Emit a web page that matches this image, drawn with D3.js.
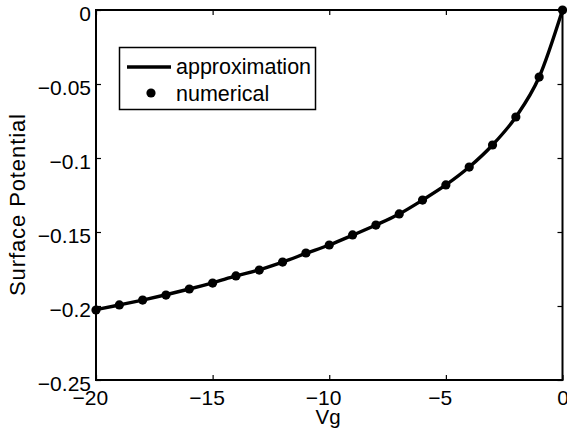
<!DOCTYPE html>
<html>
<head>
<meta charset="utf-8">
<script src="https://cdn.jsdelivr.net/npm/d3@7/dist/d3.min.js"></script>
<style>
  html, body { margin: 0; padding: 0; background: #fff; }
  svg { display: block; font-family: "Liberation Sans", Arial, Helvetica, sans-serif; }
</style>
</head>
<body>
<svg id="chart" width="567" height="436"></svg>
<script>
// Gate voltage samples
const vg = [-20, -19, -18, -17, -16, -15, -14, -13, -12, -11, -10, -9, -8, -7, -6, -5, -4, -3, -2, -1, 0];
// Surface potential from the closed-form approximation
const approximation = [-0.2025, -0.1993, -0.1960, -0.1924, -0.1885, -0.1843, -0.1797, -0.1755, -0.1703, -0.1645, -0.1588, -0.1522, -0.1453, -0.1378, -0.1284, -0.1182, -0.1061, -0.0912, -0.0723, -0.0453, 0];
// Surface potential from the numerical solver
const numerical = [-0.2027, -0.1993, -0.1960, -0.1926, -0.1885, -0.1845, -0.1797, -0.1757, -0.1703, -0.1642, -0.1588, -0.1520, -0.1453, -0.1378, -0.1284, -0.1182, -0.1061, -0.0912, -0.0723, -0.0453, 0];
const xTicks = [-20, -15, -10, -5, 0];
const yTicks = [-0.25, -0.2, -0.15, -0.1, -0.05, 0];
const seriesNames = ["approximation", "numerical"];

const svg = d3.select("#chart");
const plotLeft = 96, plotRight = 562.5, plotTop = 10, plotBottom = 380;
const tickFont = 21;

const x = d3.scaleLinear().domain([-20, 0]).range([plotLeft, plotRight]);
const y = d3.scaleLinear().domain([-0.25, 0]).range([plotBottom, plotTop]);

const fmtY = v => (v === 0 ? "0" : String(v).replace("-", "\u2212"));

const axisStyle = g => {
  g.select(".domain").remove();
  g.selectAll(".tick line").attr("stroke", "#000").attr("stroke-width", 1.2);
  g.selectAll(".tick text").attr("fill", "#000").attr("font-size", tickFont);
};

// Bottom axis: digits centred on the tick, minus sign hanging to the left
const xAxisG = svg.append("g").attr("transform", `translate(0,${plotBottom})`)
  .call(d3.axisBottom(x).tickValues(xTicks).tickFormat(v => String(Math.abs(v))).tickSizeInner(-5))
  .call(axisStyle);
xAxisG.selectAll(".tick text").attr("y", 10).attr("dy", "0.71em");
xAxisG.selectAll(".tick").each(function (v) {
  if (v >= 0) return;
  const t = d3.select(this).select("text");
  const w = t.node().getComputedTextLength();
  d3.select(this).append("text")
    .attr("x", -w / 2).attr("y", 10).attr("dy", "0.71em")
    .attr("text-anchor", "end")
    .attr("fill", "#000").attr("font-size", tickFont)
    .text("\u2212");
});

svg.append("g").attr("transform", `translate(0,${plotTop})`)
  .call(d3.axisTop(x).tickValues(xTicks).tickFormat("").tickSizeInner(-5))
  .call(axisStyle);

const yAxisG = svg.append("g").attr("transform", `translate(${plotLeft},0)`)
  .call(d3.axisLeft(y).tickValues(yTicks).tickFormat(fmtY).tickSizeInner(-5).tickPadding(5))
  .call(axisStyle);
yAxisG.selectAll(".tick text").attr("dy", "0.48em");

svg.append("g").attr("transform", `translate(${plotRight},0)`)
  .call(d3.axisRight(y).tickValues(yTicks).tickFormat("").tickSizeInner(-5))
  .call(axisStyle);

svg.append("rect")
  .attr("x", plotLeft).attr("y", plotTop)
  .attr("width", plotRight - plotLeft).attr("height", plotBottom - plotTop)
  .attr("fill", "none").attr("stroke", "#000").attr("stroke-width", 2);

// Approximation curve
const line = d3.line()
  .x((d, i) => x(vg[i]))
  .y(d => y(d))
  .curve(d3.curveMonotoneX);

svg.append("path")
  .datum(approximation)
  .attr("d", line)
  .attr("fill", "none")
  .attr("stroke", "#000")
  .attr("stroke-width", 3.4)
  .attr("stroke-linejoin", "round");

// Numerical points
svg.append("g").selectAll("circle")
  .data(numerical)
  .join("circle")
  .attr("cx", (d, i) => x(vg[i]))
  .attr("cy", d => y(d))
  .attr("r", 4.6)
  .attr("fill", "#000");

// Axis labels
svg.append("text")
  .attr("x", 328).attr("y", 424)
  .attr("text-anchor", "middle")
  .attr("font-size", 20.5)
  .text("Vg");

svg.append("text")
  .attr("transform", `translate(25,205) rotate(-90)`)
  .attr("text-anchor", "middle")
  .attr("font-size", 22)
  .attr("textLength", 182)
  .attr("lengthAdjust", "spacing")
  .text("Surface Potential");

// Legend
const lg = svg.append("g");
lg.append("rect")
  .attr("x", 119.5).attr("y", 47.5).attr("width", 196).attr("height", 62)
  .attr("fill", "#fff").attr("stroke", "#000").attr("stroke-width", 1.5);
lg.append("line")
  .attr("x1", 127).attr("x2", 171).attr("y1", 67).attr("y2", 67)
  .attr("stroke", "#000").attr("stroke-width", 3.4);
lg.append("circle").attr("cx", 151).attr("cy", 93).attr("r", 4.6).attr("fill", "#000");
lg.selectAll("text.lab")
  .data(seriesNames)
  .join("text")
  .attr("class", "lab")
  .attr("x", 176)
  .attr("y", (d, i) => 74 + i * 26.5)
  .attr("font-size", 21.5)
  .text(d => d);
</script>
</body>
</html>
